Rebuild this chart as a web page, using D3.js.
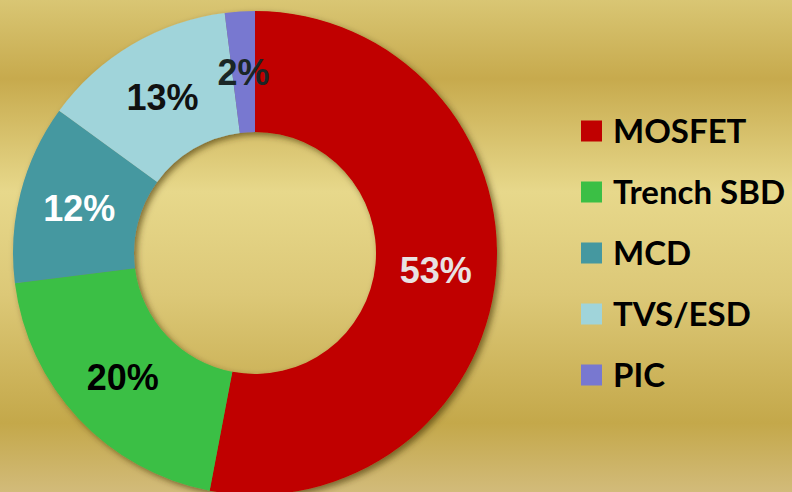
<!DOCTYPE html>
<html>
<head>
<meta charset="utf-8">
<script src="https://cdn.jsdelivr.net/npm/d3@7"></script>
<style>
  html, body { margin: 0; padding: 0; }
  svg { display: block; }
</style>
</head>
<body>
<svg id="chart" width="792" height="492"></svg>
<script>
const categories = ["MOSFET", "Trench SBD", "MCD", "TVS/ESD", "PIC"];
const shares = [53, 20, 12, 13, 2];
const colors = ["#c00000", "#3bbf45", "#4598a0", "#a0d4da", "#7878d0"];
const labelColors = ["#e8e2e2", "#000000", "#ffffff", "#111111", "#1a2626"];

const width = 792, height = 492;
const cx = 255, cy = 253, outerR = 242, innerR = 121;

const svg = d3.select("#chart");
const defs = svg.append("defs");

// gold background bands
const bg = defs.append("linearGradient")
    .attr("id", "bg").attr("x1", 0).attr("y1", 0).attr("x2", 0).attr("y2", 1);
[[0, "#d9c674"], [0.16, "#c7aa4d"], [0.39, "#e7d88b"], [0.6, "#dcc877"], [0.86, "#c4a84a"], [1, "#d2bb7a"]]
    .forEach(([o, c]) => bg.append("stop").attr("offset", o).attr("stop-color", c));

const shadow = defs.append("filter").attr("id", "shadow")
    .attr("x", "-10%").attr("y", "-10%").attr("width", "120%").attr("height", "120%");
shadow.append("feDropShadow")
    .attr("dx", 3).attr("dy", 3).attr("stdDeviation", 3)
    .attr("flood-color", "#3a2a00").attr("flood-opacity", 0.6);

svg.append("rect").attr("width", width).attr("height", height).attr("fill", "url(#bg)");

const color = d3.scaleOrdinal().domain(categories).range(colors);
const labelColor = d3.scaleOrdinal().domain(categories).range(labelColors);

const pie = d3.pie().sort(null).value(d => d.value);
const data = pie(categories.map((c, i) => ({ name: c, value: shares[i] })));

const arc = d3.arc().innerRadius(innerR).outerRadius(outerR);
const labelArc = d3.arc().innerRadius((innerR + outerR) / 2).outerRadius((innerR + outerR) / 2);

const g = svg.append("g").attr("transform", `translate(${cx},${cy})`);

g.append("g").attr("filter", "url(#shadow)")
  .selectAll("path")
  .data(data)
  .join("path")
    .attr("d", arc)
    .attr("fill", d => color(d.data.name));

g.selectAll("text")
  .data(data)
  .join("text")
    .attr("transform", d => `translate(${labelArc.centroid(d)})`)
    .attr("text-anchor", "middle")
    .attr("dy", "0.36em")
    .attr("font-family", "Liberation Sans, Arial, sans-serif")
    .attr("font-weight", "bold")
    .attr("font-size", 36)
    .attr("fill", d => labelColor(d.data.name))
    .text(d => d.data.value + "%");

// legend
const legendY = d3.scalePoint().domain(categories).range([131, 375]);

const legend = svg.append("g")
  .selectAll("g")
  .data(categories)
  .join("g")
    .attr("transform", d => `translate(581,${legendY(d)})`);

legend.append("rect")
    .attr("y", -10.5)
    .attr("width", 21).attr("height", 21)
    .attr("fill", d => color(d));

legend.append("text")
    .attr("x", 32)
    .attr("y", 11.5)
    .attr("font-family", "Lato, sans-serif")
    .attr("font-weight", "bold")
    .attr("font-size", 33)
    .attr("fill", "#000")
    .text(d => d);
</script>
</body>
</html>
